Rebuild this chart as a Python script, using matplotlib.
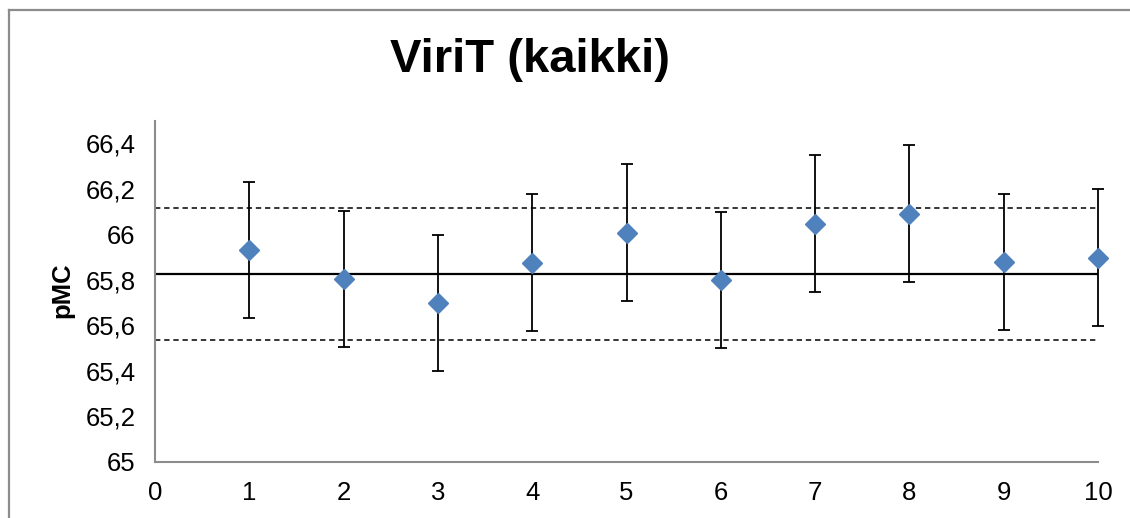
import matplotlib
matplotlib.use("Agg")
import matplotlib.pyplot as plt
from matplotlib.lines import Line2D

plt.rcParams['font.family'] = ['Liberation Sans', 'DejaVu Sans']

# Mittaukset (näytteen numero, pMC ja virhe)
naytteet = [1, 2, 3, 4, 5, 6, 7, 8, 9, 10]
pmc = [65.931, 65.803, 65.698, 65.875, 66.007, 65.798, 66.047, 66.091, 65.878, 65.897]
virhe = [0.30, 0.30, 0.30, 0.30, 0.30, 0.30, 0.30, 0.30, 0.30, 0.30]

# Keskiarvo ja rajat
keskiarvo = 65.827
ylaraja = 66.117
alaraja = 65.535
viiva_x = [0, 10]

y_ticks = [65, 65.2, 65.4, 65.6, 65.8, 66, 66.2, 66.4]
y_labels = ["65", "65,2", "65,4", "65,6", "65,8", "66", "66,2", "66,4"]
x_ticks = [0, 1, 2, 3, 4, 5, 6, 7, 8, 9, 10]

fig = plt.figure(figsize=(11.3, 5.18), dpi=100)
ax = fig.add_axes([0.1372, 0.1087, 0.8345, 0.6585])

ax.plot(viiva_x, [keskiarvo, keskiarvo], color="black", lw=1.6, zorder=2)
ax.plot(viiva_x, [ylaraja, ylaraja], color="black", lw=1.1, ls=(0, (3.5, 2.5)), zorder=2)
ax.plot(viiva_x, [alaraja, alaraja], color="black", lw=1.1, ls=(0, (3.5, 2.5)), zorder=2)

eb = ax.errorbar(naytteet, pmc, yerr=virhe, fmt="none", ecolor="black",
                 elinewidth=1.3, capsize=4, capthick=1.3, zorder=3)
for osa in eb.lines[1] + eb.lines[2]:
    osa.set_clip_on(False)
ax.plot(naytteet, pmc, ls="none", marker="D", ms=10, color="#4F81BD",
        markeredgecolor="#4F81BD", zorder=4, clip_on=False)

ax.set_xlim(0, 10)
ax.set_ylim(65, 66.5)
ax.set_xticks(x_ticks)
ax.set_yticks(y_ticks)
ax.set_yticklabels(y_labels)
ax.tick_params(length=0, labelsize=18.5, pad=14)

for side in ["top", "right"]:
    ax.spines[side].set_visible(False)
for side in ["left", "bottom"]:
    ax.spines[side].set_color("#8C8C8C")
    ax.spines[side].set_linewidth(1.5)

fig.text(62 / 1130, 1 - 290 / 518, "pMC", rotation=90, fontsize=18.5,
         fontweight="bold", ha="center", va="center")
fig.text(530 / 1130, 1 - 60 / 518, "ViriT (kaikki)", fontsize=34,
         fontweight="bold", ha="center", va="center")

# Kehys (vain ylä- ja vasen reuna näkyvissä)
fig.add_artist(Line2D([8.5 / 1130, 8.5 / 1130], [0, 1 - 9.5 / 518],
                      transform=fig.transFigure, color="#8C8C8C", lw=1.6))
fig.add_artist(Line2D([8.5 / 1130, 1], [1 - 9.5 / 518, 1 - 9.5 / 518],
                      transform=fig.transFigure, color="#8C8C8C", lw=1.6))

fig.savefig("out.png", dpi=100)
